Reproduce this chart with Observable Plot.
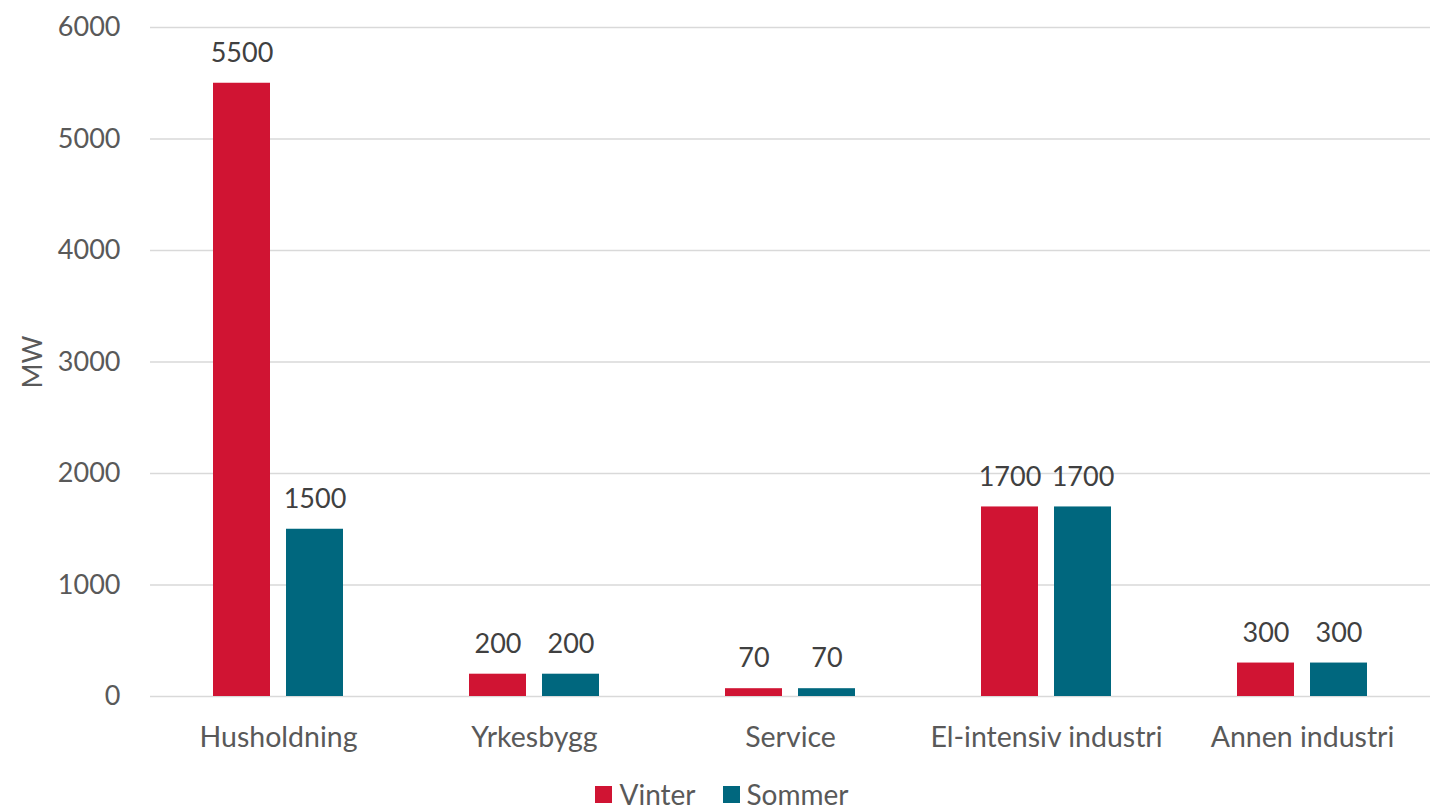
<!DOCTYPE html>
<html>
<head>
<meta charset="utf-8">
<script src="https://cdn.jsdelivr.net/npm/d3@7"></script>
<script src="https://cdn.jsdelivr.net/npm/@observablehq/plot@0.6"></script>
<style>
  html, body { margin: 0; padding: 0; background: #fff; overflow: hidden; }
  #chart { width: 1432px; }
  .legend { display: flex; justify-content: center; gap: 27px; font-family: Lato, "Open Sans", sans-serif; font-size: 28px; line-height: 28px; height: 28px; color: #595959; margin-top: 14px; padding-left: 12px; }
  .legend span.item { display: flex; align-items: center; }
  .legend span.sw { display: inline-block; width: 17px; height: 17px; margin-right: 7px; }
</style>
</head>
<body>
<div id="chart"></div>
<script>
const categories = ["Husholdning", "Yrkesbygg", "Service", "El-intensiv industri", "Annen industri"];
const seriesNames = ["Vinter", "Sommer"];
const vinter = [5500, 200, 70, 1700, 300];
const sommer = [1500, 200, 70, 1700, 300];
const colors = ["#D01433", "#00677E"];
const yTicks = [0, 1000, 2000, 3000, 4000, 5000, 6000];

const data = [];
categories.forEach((c, i) => {
  data.push({category: c, series: "Vinter", value: vinter[i]});
  data.push({category: c, series: "Sommer", value: sommer[i]});
});

const font = "Lato, 'Open Sans', sans-serif";
const plot = Plot.plot({
  width: 1432,
  height: 766,
  marginTop: 27,
  marginBottom: 70,
  marginLeft: 150,
  marginRight: 2,
  style: {fontFamily: font, fontSize: "26px", color: "#595959", background: "#fff"},
  fx: {domain: categories, padding: 0, label: null, axis: null},
  x: {domain: seriesNames, paddingInner: 0.216, paddingOuter: 0.838, axis: null},
  y: {domain: [0, 6000], label: null, ticks: yTicks},
  color: {domain: seriesNames, range: colors},
  marks: [
    Plot.gridY(yTicks, {stroke: "#d9d9d9", strokeOpacity: 1, strokeWidth: 1.5}),
    Plot.axisY(yTicks, {tickSize: 0, tickPadding: 30, tickFormat: d => String(d), fontSize: 27, fill: "#595959",
      label: "MW", labelAnchor: "center", labelArrow: "none", labelOffset: 128}),
    Plot.axisFx({anchor: "bottom", tickSize: 0, tickPadding: 30, fontSize: 28.5, fill: "#595959", label: null}),
    Plot.barY(data, {fx: "category", x: "series", y: "value", fill: "series"}),
    Plot.text(data, {fx: "category", x: "series", y: "value", text: d => String(d.value), dy: -30, fontSize: 27, fill: "#404040"})
  ]
});
document.getElementById("chart").appendChild(plot);

const legend = document.createElement("div");
legend.className = "legend";
seriesNames.forEach((s, i) => {
  const item = document.createElement("span");
  item.className = "item";
  const sw = document.createElement("span");
  sw.className = "sw";
  sw.style.background = colors[i];
  item.appendChild(sw);
  item.appendChild(document.createTextNode(s));
  legend.appendChild(item);
});
document.getElementById("chart").appendChild(legend);
</script>
</body>
</html>
